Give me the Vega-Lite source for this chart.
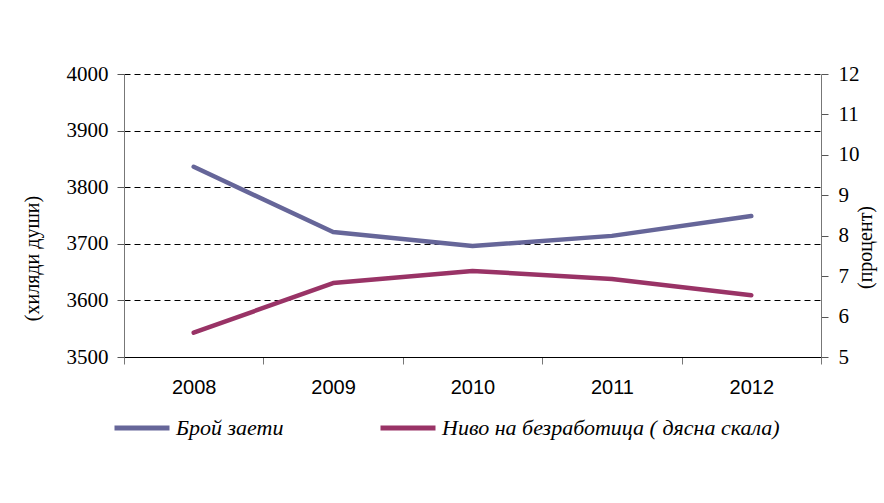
{
  "$schema": "https://vega.github.io/schema/vega-lite/v6.json",
  "autosize": "none",
  "width": 697,
  "height": 283,
  "padding": {"left": 124, "top": 74, "right": 63, "bottom": 146},
  "background": "white",
  "config": {"view": {"stroke": null}},
  "data": {"values": [
    {"year": "2008", "series": "Брой заети", "value": 3836},
    {"year": "2009", "series": "Брой заети", "value": 3721},
    {"year": "2010", "series": "Брой заети", "value": 3696},
    {"year": "2011", "series": "Брой заети", "value": 3714},
    {"year": "2012", "series": "Брой заети", "value": 3749},
    {"year": "2008", "series": "Ниво на  безработица ( дясна скала)", "value": 5.6},
    {"year": "2009", "series": "Ниво на  безработица ( дясна скала)", "value": 6.83},
    {"year": "2010", "series": "Ниво на  безработица ( дясна скала)", "value": 7.13},
    {"year": "2011", "series": "Ниво на  безработица ( дясна скала)", "value": 6.93},
    {"year": "2012", "series": "Ниво на  безработица ( дясна скала)", "value": 6.53}
  ]},
  "encoding": {
    "x": {
      "field": "year", "type": "ordinal",
      "scale": {"type": "band", "paddingInner": 0, "paddingOuter": 0},
      "axis": {
        "title": null, "labelAngle": 0, "tickBand": "extent",
        "domainColor": "#000", "domainWidth": 1,
        "tickColor": "#777", "tickSize": 7,
        "labelFont": "Liberation Sans", "labelFontSize": 20, "labelColor": "#000",
        "labelPadding": 13
      }
    },
    "color": {
      "field": "series", "type": "nominal",
      "scale": {"domain": ["Брой заети", "Ниво на  безработица ( дясна скала)"], "range": ["#666699", "#993366"]},
      "legend": {
        "title": null, "orient": "none", "direction": "horizontal",
        "legendX": -12, "legendY": 324,
        "symbolType": "stroke", "symbolSize": 3025, "symbolStrokeWidth": 5,
        "labelFont": "Liberation Serif", "labelFontStyle": "italic", "labelFontSize": 22,
        "labelColor": "#000", "labelOffset": 4, "columnPadding": 86, "labelLimit": 600
      }
    }
  },
  "layer": [
    {
      "transform": [{"filter": "datum.series === 'Брой заети'"}],
      "mark": {"type": "line", "strokeWidth": 4.5, "strokeCap": "round", "strokeJoin": "round"},
      "encoding": {
        "y": {
          "field": "value", "type": "quantitative",
          "scale": {"domain": [3500, 4000], "nice": false, "zero": false},
          "axis": {
            "title": "(хиляди души)", "values": [3500, 3600, 3700, 3800, 3900, 4000], "format": "d",
            "grid": true, "gridDash": [6, 4], "gridColor": "#000", "gridWidth": 1,
            "domainColor": "#777", "tickColor": "#555", "tickSize": 7,
            "labelFont": "Liberation Serif", "labelFontSize": 21, "labelColor": "#000", "labelPadding": 9,
            "titleFont": "Liberation Serif", "titleFontSize": 20, "titleFontWeight": "normal", "titleColor": "#000",
            "titleX": -82, "titleY": 184
          }
        }
      }
    },
    {
      "transform": [{"filter": "datum.series !== 'Брой заети'"}],
      "mark": {"type": "line", "strokeWidth": 4.5, "strokeCap": "round", "strokeJoin": "round"},
      "encoding": {
        "y": {
          "field": "value", "type": "quantitative",
          "scale": {"domain": [5, 12], "nice": false, "zero": false},
          "axis": {
            "orient": "right", "title": "(процент)", "values": [5, 6, 7, 8, 9, 10, 11, 12],
            "grid": false,
            "domainColor": "#777", "tickColor": "#555", "tickSize": 7,
            "labelFont": "Liberation Serif", "labelFontSize": 21, "labelColor": "#000", "labelPadding": 10,
            "titleFont": "Liberation Serif", "titleFontSize": 20, "titleFontWeight": "normal", "titleColor": "#000",
            "titleAngle": -90, "titleBaseline": "top", "titleX": 34, "titleY": 173
          }
        }
      }
    }
  ],
  "resolve": {"scale": {"y": "independent"}}
}
